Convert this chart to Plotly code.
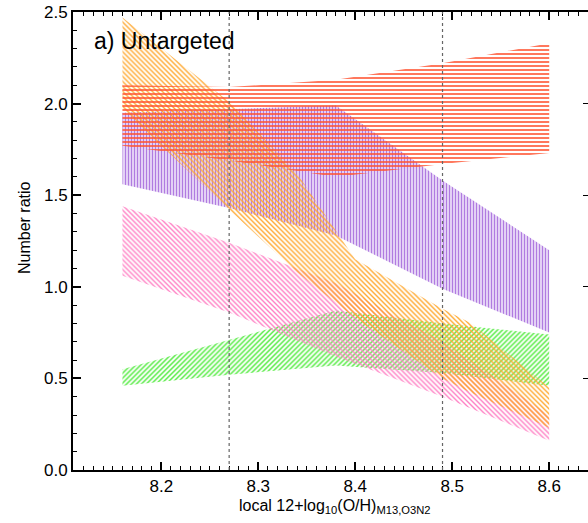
import plotly.graph_objects as go

# ---- data ----
x_bins = [8.16, 8.27, 8.38, 8.49, 8.60]

red_lower = [1.77, 1.69, 1.60, 1.67, 1.73]
red_upper = [2.10, 2.09, 2.13, 2.22, 2.33]

purple_lower = [1.56, 1.43, 1.28, 0.99, 0.75]
purple_upper = [1.95, 1.97, 1.99, 1.58, 1.20]

orange_x = [8.16, 8.27, 8.34, 8.40, 8.49, 8.52, 8.60]
orange_lower = [1.97, 1.42, 1.08, 0.83, 0.50, 0.42, 0.23]
orange_upper = [2.47, 2.01, 1.62, 1.15, 0.88, 0.80, 0.45]

pink_lower = [1.06, 0.86, 0.62, 0.40, 0.16]
pink_upper = [1.44, 1.24, 1.02, 0.70, 0.30]

green_lower = [0.46, 0.52, 0.57, 0.53, 0.46]
green_upper = [0.55, 0.71, 0.87, 0.80, 0.74]

ref_lines = [8.27, 8.49]

x_range = [8.109, 8.640]
y_range = [0.0, 2.5]

FONT = "Liberation Sans, Arial, Helvetica, sans-serif"

fig = go.Figure()


def band(x, lo, hi, color, shape, bg="rgba(0,0,0,0)", size=4, solidity=0.35):
    fig.add_trace(go.Scatter(
        x=list(x) + list(x)[::-1],
        y=list(hi) + list(lo)[::-1],
        mode="lines",
        line=dict(width=0, color=color),
        fill="toself",
        fillcolor="rgba(0,0,0,0)",
        fillpattern=dict(shape=shape, fgcolor=color, bgcolor=bg,
                         size=size, solidity=solidity, fillmode="replace"),
        hoverinfo="skip",
        showlegend=False,
    ))


band(x_bins, green_lower, green_upper, "#4CEA38", "/", size=3.5, solidity=0.4)
band(x_bins, pink_lower, pink_upper, "#FF80C4", "\\", size=3.5, solidity=0.4)
band(x_bins, purple_lower, purple_upper, "#B07BE0", "|",
     bg="rgba(205,170,240,0.35)", size=3, solidity=0.45)
band(orange_x, orange_lower, orange_upper, "#FFA82E", "\\", size=3.5, solidity=0.4)
band(x_bins, red_lower, red_upper, "#FF5533", "-", size=4, solidity=0.4)

for xv in ref_lines:
    fig.add_shape(type="line", x0=xv, x1=xv, y0=0, y1=1, xref="x", yref="paper",
                  line=dict(color="#666666", width=1.2, dash="dot"), layer="above")

fig.add_annotation(text="a) Untargeted", xref="paper", yref="paper",
                   x=(92 - 73) / 515, y=(470 - 41) / 458, xanchor="left", yanchor="middle",
                   showarrow=False, font=dict(family=FONT, size=23, color="black"))

fig.add_annotation(text="Number ratio", xref="paper", yref="paper", textangle=-90,
                   x=(24 - 73) / 515, y=(470 - 228) / 458, xanchor="center", yanchor="middle",
                   showarrow=False, font=dict(family=FONT, size=16, color="black"))

fig.add_annotation(text="local 12+log<sub>10</sub>(O/H)<sub>M13,O3N2</sub>",
                   xref="paper", yref="paper",
                   x=(335 - 73) / 515, y=(470 - 507) / 458, xanchor="center", yanchor="middle",
                   showarrow=False, font=dict(family=FONT, size=16, color="black"))

axis_common = dict(
    showgrid=False, zeroline=False, showline=True, linecolor="black", linewidth=2,
    ticks="inside", tickcolor="black", tickwidth=1.5,
    tickfont=dict(family=FONT, size=17, color="black"),
)

fig.update_xaxes(range=x_range, dtick=0.1, tick0=8.0, ticklen=8, mirror="ticks",
                 minor=dict(ticks="inside", dtick=0.01, tick0=8.0, ticklen=4,
                            tickcolor="black", tickwidth=1.2, showgrid=False),
                 tickformat=".1f", **axis_common)
fig.update_yaxes(range=y_range, dtick=0.5, tick0=0, ticklen=8, mirror=False,
                 minor=dict(ticks="inside", dtick=0.1, tick0=0, ticklen=4,
                            tickcolor="black", tickwidth=1.2, showgrid=False),
                 tickformat=".1f", **axis_common)

fig.update_layout(
    yaxis2=dict(overlaying="y", side="right", range=y_range, dtick=0.5, tick0=0,
                ticks="inside", ticklen=5, tickcolor="black", tickwidth=1.2,
                showticklabels=False, showline=False, showgrid=False, zeroline=False),
)
# invisible trace that activates the right-hand tick axis
fig.add_trace(go.Scatter(x=[x_range[0]], y=[0], yaxis="y2", mode="markers",
                         marker=dict(opacity=0), hoverinfo="skip", showlegend=False))

fig.update_layout(
    width=588, height=523,
    margin=dict(l=73, r=0, t=12, b=53),
    paper_bgcolor="white", plot_bgcolor="white",
    font=dict(family=FONT, color="black"),
)

fig.write_html("out.html")
